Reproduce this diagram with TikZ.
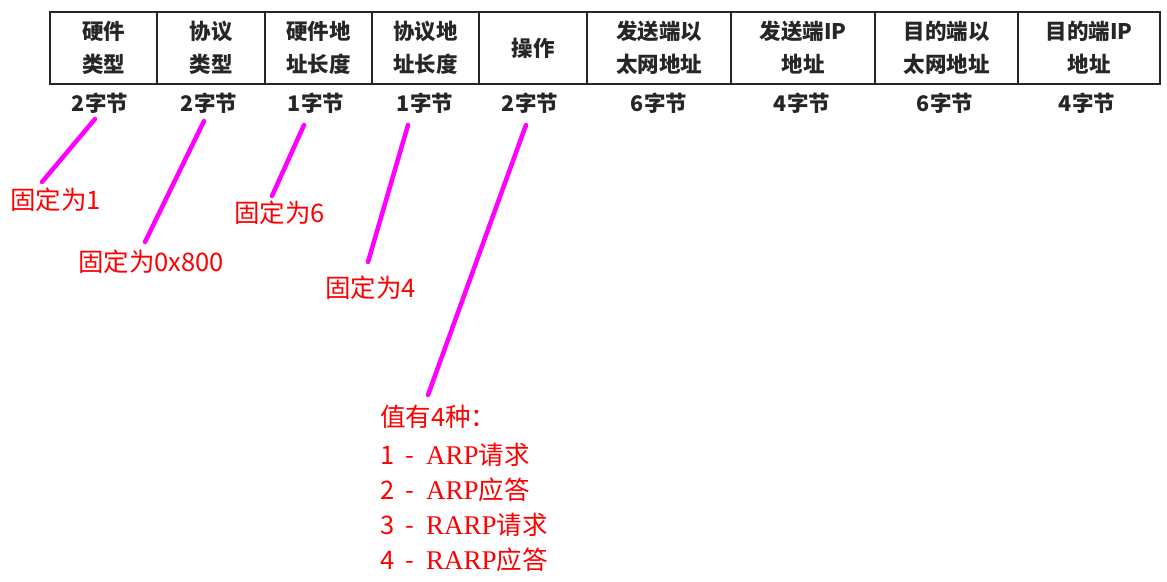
\documentclass[tikz,border=0pt]{standalone}
\usepackage{fontspec}
\newfontfamily\cjk{Noto Sans CJK SC}
\newfontfamily\lser{Liberation Serif}
\definecolor{pinmag}{RGB}{255,0,255}
\definecolor{notered}{RGB}{255,0,0}
\begin{document}
\begin{tikzpicture}[x=1pt,y=-1pt,
  cell/.style={draw=black!85, line width=1.6pt, minimum height=72pt, inner sep=0pt, align=center,
    font=\cjk\fontsize{21.5}{33}\selectfont\bfseries, text=black!85},
  bytes/.style={font=\cjk\fontsize{21.5}{24}\selectfont\bfseries, text=black!85},
  note/.style={anchor=west, inner sep=0pt, text=notered, font=\cjk\fontsize{25.5}{28}\selectfont},
  pin/.style={draw=pinmag, line width=4.5pt, line cap=round}]
\useasboundingbox (0,0) rectangle (1167,581);
% table cells
\node[cell, minimum width=107pt] (c1) at (103.5,48) {硬件\\类型};
\node[cell, minimum width=108pt] (c2) at (211,48) {协议\\类型};
\node[cell, minimum width=107pt] (c3) at (318.5,48) {硬件地\\址长度};
\node[cell, minimum width=107pt] (c4) at (425.5,48) {协议地\\址长度};
\node[cell, minimum width=108pt] (c5) at (533,48) {操作};
\node[cell, minimum width=144pt] (c6) at (659,48) {发送端以\\太网地址};
\node[cell, minimum width=144pt] (c7) at (803,48) {发送端IP\\地址};
\node[cell, minimum width=143pt] (c8) at (946.5,48) {目的端以\\太网地址};
\node[cell, minimum width=142pt] (c9) at (1089,48) {目的端IP\\地址};
% byte sizes
\node[bytes] (b1) at (100,103) {2字节};
\node[bytes] (b2) at (209,103) {2字节};
\node[bytes] (b3) at (316,103) {1字节};
\node[bytes] (b4) at (425,103) {1字节};
\node[bytes] (b5) at (530,103) {2字节};
\node[bytes] (b6) at (659,103) {6字节};
\node[bytes] (b7) at (802,103) {4字节};
\node[bytes] (b8) at (945,103) {6字节};
\node[bytes] (b9) at (1087,103) {4字节};
% notes
\node[note] (n1) at (10,200) {固定为1};
\node[note] (n2) at (78,262) {固定为0x800};
\node[note] (n3) at (234,213) {固定为6};
\node[note] (n4) at (325,288) {固定为4};
\node[note] (n5) at (380,417) {值有4种：};
\node[note] (n6) at (380,455) {1 ~-~ {\lser\fontsize{27}{28}\selectfont ARP}请求};
\node[note] (n7) at (380,490) {2 ~-~ {\lser\fontsize{27}{28}\selectfont ARP}应答};
\node[note] (n8) at (380,525) {3 ~-~ {\lser\fontsize{27}{28}\selectfont RARP}请求};
\node[note] (n9) at (380,560) {4 ~-~ {\lser\fontsize{27}{28}\selectfont RARP}应答};
% pin endpoints
\coordinate (s1) at (95,119);  \coordinate (e1) at (42,182);
\coordinate (s2) at (204,121); \coordinate (e2) at (145,242);
\coordinate (s3) at (304,125); \coordinate (e3) at (272,196);
\coordinate (s4) at (408,125); \coordinate (e4) at (368,262);
\coordinate (s5) at (526,125); \coordinate (e5) at (428,395);
\draw[pin] (s1) -- (e1);
\draw[pin] (s2) -- (e2);
\draw[pin] (s3) -- (e3);
\draw[pin] (s4) -- (e4);
\draw[pin] (s5) -- (e5);
\end{tikzpicture}
\end{document}
